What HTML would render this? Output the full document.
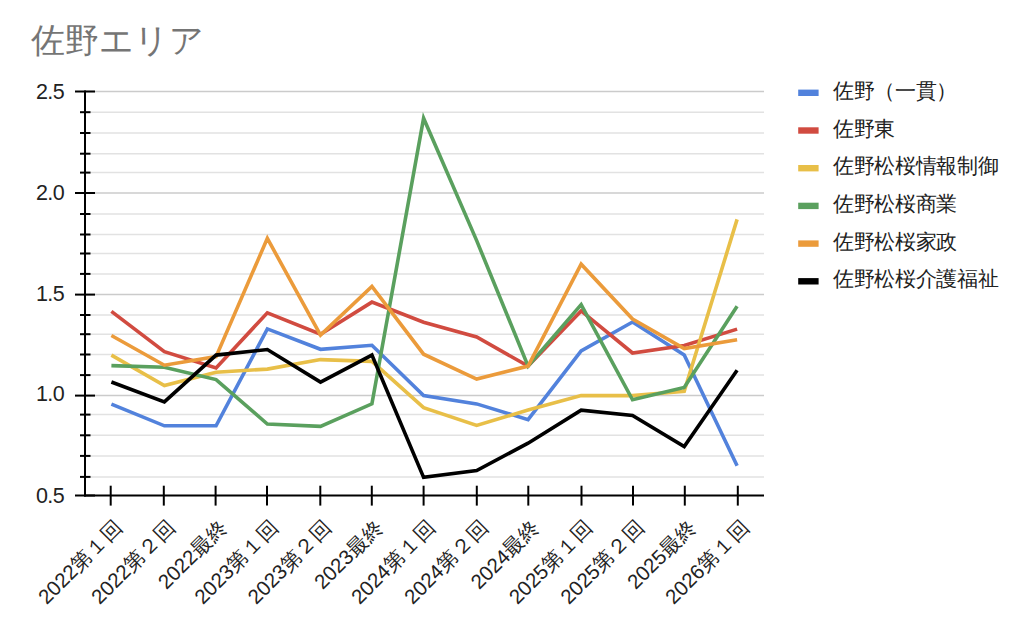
<!DOCTYPE html>
<html><head><meta charset="utf-8"><style>
html,body{margin:0;padding:0;background:#fff;width:1024px;height:629px;overflow:hidden}
svg{position:absolute;left:0;top:0;font-family:"Liberation Sans",sans-serif}
.yl{font-size:21.5px;fill:#222;letter-spacing:-0.5px}
.xl{font-size:20.5px;fill:#222}
.lg{font-size:21px;fill:#222;letter-spacing:-0.35px}
.title{font-size:34px;fill:#757575}
</style></head><body>
<svg width="1024" height="629" viewBox="0 0 1024 629">
<text x="31" y="52" class="title">佐野エリア</text>
<line x1="85" x2="764" y1="476.90" y2="476.90" stroke="#e2e2e2" stroke-width="1.5"/>
<line x1="85" x2="764" y1="455.90" y2="455.90" stroke="#e2e2e2" stroke-width="1.5"/>
<line x1="85" x2="764" y1="435.30" y2="435.30" stroke="#e2e2e2" stroke-width="1.5"/>
<line x1="85" x2="764" y1="414.60" y2="414.60" stroke="#e2e2e2" stroke-width="1.5"/>
<line x1="85" x2="764" y1="395.60" y2="395.60" stroke="#cbcbcb" stroke-width="1.5"/>
<line x1="85" x2="764" y1="375.10" y2="375.10" stroke="#e2e2e2" stroke-width="1.5"/>
<line x1="85" x2="764" y1="354.50" y2="354.50" stroke="#e2e2e2" stroke-width="1.5"/>
<line x1="85" x2="764" y1="334.20" y2="334.20" stroke="#e2e2e2" stroke-width="1.5"/>
<line x1="85" x2="764" y1="315.00" y2="315.00" stroke="#e2e2e2" stroke-width="1.5"/>
<line x1="85" x2="764" y1="294.60" y2="294.60" stroke="#cbcbcb" stroke-width="1.5"/>
<line x1="85" x2="764" y1="273.90" y2="273.90" stroke="#e2e2e2" stroke-width="1.5"/>
<line x1="85" x2="764" y1="253.50" y2="253.50" stroke="#e2e2e2" stroke-width="1.5"/>
<line x1="85" x2="764" y1="234.50" y2="234.50" stroke="#e2e2e2" stroke-width="1.5"/>
<line x1="85" x2="764" y1="214.00" y2="214.00" stroke="#e2e2e2" stroke-width="1.5"/>
<line x1="85" x2="764" y1="193.00" y2="193.00" stroke="#cbcbcb" stroke-width="1.5"/>
<line x1="85" x2="764" y1="172.60" y2="172.60" stroke="#e2e2e2" stroke-width="1.5"/>
<line x1="85" x2="764" y1="153.70" y2="153.70" stroke="#e2e2e2" stroke-width="1.5"/>
<line x1="85" x2="764" y1="133.00" y2="133.00" stroke="#e2e2e2" stroke-width="1.5"/>
<line x1="85" x2="764" y1="112.20" y2="112.20" stroke="#e2e2e2" stroke-width="1.5"/>
<line x1="85" x2="764" y1="91.50" y2="91.50" stroke="#cbcbcb" stroke-width="1.5"/>
<line x1="75" x2="95" y1="495.50" y2="495.50" stroke="#000" stroke-width="2"/>
<line x1="80" x2="90.5" y1="476.90" y2="476.90" stroke="#000" stroke-width="2"/>
<line x1="80" x2="90.5" y1="455.90" y2="455.90" stroke="#000" stroke-width="2"/>
<line x1="80" x2="90.5" y1="435.30" y2="435.30" stroke="#000" stroke-width="2"/>
<line x1="80" x2="90.5" y1="414.60" y2="414.60" stroke="#000" stroke-width="2"/>
<line x1="75" x2="95" y1="395.60" y2="395.60" stroke="#000" stroke-width="2"/>
<line x1="80" x2="90.5" y1="375.10" y2="375.10" stroke="#000" stroke-width="2"/>
<line x1="80" x2="90.5" y1="354.50" y2="354.50" stroke="#000" stroke-width="2"/>
<line x1="80" x2="90.5" y1="334.20" y2="334.20" stroke="#000" stroke-width="2"/>
<line x1="80" x2="90.5" y1="315.00" y2="315.00" stroke="#000" stroke-width="2"/>
<line x1="75" x2="95" y1="294.60" y2="294.60" stroke="#000" stroke-width="2"/>
<line x1="80" x2="90.5" y1="273.90" y2="273.90" stroke="#000" stroke-width="2"/>
<line x1="80" x2="90.5" y1="253.50" y2="253.50" stroke="#000" stroke-width="2"/>
<line x1="80" x2="90.5" y1="234.50" y2="234.50" stroke="#000" stroke-width="2"/>
<line x1="80" x2="90.5" y1="214.00" y2="214.00" stroke="#000" stroke-width="2"/>
<line x1="75" x2="95" y1="193.00" y2="193.00" stroke="#000" stroke-width="2"/>
<line x1="80" x2="90.5" y1="172.60" y2="172.60" stroke="#000" stroke-width="2"/>
<line x1="80" x2="90.5" y1="153.70" y2="153.70" stroke="#000" stroke-width="2"/>
<line x1="80" x2="90.5" y1="133.00" y2="133.00" stroke="#000" stroke-width="2"/>
<line x1="80" x2="90.5" y1="112.20" y2="112.20" stroke="#000" stroke-width="2"/>
<line x1="75" x2="95" y1="91.50" y2="91.50" stroke="#000" stroke-width="2"/>
<line x1="85" x2="85" y1="90.50" y2="496.50" stroke="#000" stroke-width="2"/>
<line x1="84" x2="764" y1="495.50" y2="495.50" stroke="#000" stroke-width="2"/>
<line x1="110.70" x2="110.70" y1="485.7" y2="505.6" stroke="#000" stroke-width="2"/>
<line x1="163.80" x2="163.80" y1="485.7" y2="505.6" stroke="#000" stroke-width="2"/>
<line x1="215.60" x2="215.60" y1="485.7" y2="505.6" stroke="#000" stroke-width="2"/>
<line x1="267.00" x2="267.00" y1="485.7" y2="505.6" stroke="#000" stroke-width="2"/>
<line x1="320.30" x2="320.30" y1="485.7" y2="505.6" stroke="#000" stroke-width="2"/>
<line x1="371.80" x2="371.80" y1="485.7" y2="505.6" stroke="#000" stroke-width="2"/>
<line x1="423.60" x2="423.60" y1="485.7" y2="505.6" stroke="#000" stroke-width="2"/>
<line x1="476.80" x2="476.80" y1="485.7" y2="505.6" stroke="#000" stroke-width="2"/>
<line x1="528.30" x2="528.30" y1="485.7" y2="505.6" stroke="#000" stroke-width="2"/>
<line x1="581.50" x2="581.50" y1="485.7" y2="505.6" stroke="#000" stroke-width="2"/>
<line x1="633.00" x2="633.00" y1="485.7" y2="505.6" stroke="#000" stroke-width="2"/>
<line x1="684.80" x2="684.80" y1="485.7" y2="505.6" stroke="#000" stroke-width="2"/>
<line x1="737.80" x2="737.80" y1="485.7" y2="505.6" stroke="#000" stroke-width="2"/>
<text x="64.3" y="502.70" text-anchor="end" class="yl">0.5</text>
<text x="64.3" y="401.20" text-anchor="end" class="yl">1.0</text>
<text x="64.3" y="300.70" text-anchor="end" class="yl">1.5</text>
<text x="64.3" y="199.90" text-anchor="end" class="yl">2.0</text>
<text x="64.3" y="98.70" text-anchor="end" class="yl">2.5</text>
<polyline points="111.40,404.20 164.38,425.80 216.07,425.80 267.35,328.90 320.53,349.30 371.92,345.30 423.60,395.60 476.68,403.90 528.07,419.60 581.15,351.00 632.53,322.00 684.22,355.00 737.10,465.70" fill="none" stroke="#5282dc" stroke-width="3.6" stroke-linejoin="miter" stroke-miterlimit="10" stroke-linecap="butt"/>
<polyline points="111.40,311.40 164.38,351.60 216.07,368.00 267.35,312.80 320.53,334.20 371.92,302.10 423.60,322.20 476.68,336.90 528.07,366.10 581.15,310.90 632.53,353.00 684.22,345.50 737.10,329.10" fill="none" stroke="#d14b40" stroke-width="3.6" stroke-linejoin="miter" stroke-miterlimit="10" stroke-linecap="butt"/>
<polyline points="111.40,355.10 164.38,385.50 216.07,372.20 267.35,369.10 320.53,359.60 371.92,361.40 423.60,407.60 476.68,425.40 528.07,410.10 581.15,395.60 632.53,395.60 684.22,391.30 737.10,219.40" fill="none" stroke="#e8bf48" stroke-width="3.6" stroke-linejoin="miter" stroke-miterlimit="10" stroke-linecap="butt"/>
<polyline points="111.40,365.60 164.38,367.30 216.07,379.60 267.35,424.00 320.53,426.40 371.92,403.80 423.60,118.20 476.68,240.60 528.07,366.10 581.15,304.60 632.53,399.80 684.22,387.50 737.10,306.20" fill="none" stroke="#5aa05e" stroke-width="3.6" stroke-linejoin="miter" stroke-miterlimit="10" stroke-linecap="butt"/>
<polyline points="111.40,335.50 164.38,365.20 216.07,356.60 267.35,238.40 320.53,335.10 371.92,286.50 423.60,354.20 476.68,379.10 528.07,366.10 581.15,264.20 632.53,319.10 684.22,348.60 737.10,339.80" fill="none" stroke="#eb9b3b" stroke-width="3.6" stroke-linejoin="miter" stroke-miterlimit="10" stroke-linecap="butt"/>
<polyline points="111.40,382.00 164.38,401.90 216.07,355.10 267.35,349.50 320.53,382.10 371.92,355.10 423.60,477.40 476.68,470.60 528.07,443.20 581.15,410.10 632.53,415.50 684.22,446.60 737.10,370.30" fill="none" stroke="#000000" stroke-width="3.6" stroke-linejoin="miter" stroke-miterlimit="10" stroke-linecap="butt"/>
<text transform="translate(123.55,528.4) rotate(-45)" text-anchor="end" class="xl">2022第１回</text>
<text transform="translate(176.65,528.4) rotate(-45)" text-anchor="end" class="xl">2022第２回</text>
<text transform="translate(228.45,528.4) rotate(-45)" text-anchor="end" class="xl">2022最終</text>
<text transform="translate(279.85,528.4) rotate(-45)" text-anchor="end" class="xl">2023第１回</text>
<text transform="translate(333.15,528.4) rotate(-45)" text-anchor="end" class="xl">2023第２回</text>
<text transform="translate(384.65,528.4) rotate(-45)" text-anchor="end" class="xl">2023最終</text>
<text transform="translate(436.45,528.4) rotate(-45)" text-anchor="end" class="xl">2024第１回</text>
<text transform="translate(489.65,528.4) rotate(-45)" text-anchor="end" class="xl">2024第２回</text>
<text transform="translate(541.15,528.4) rotate(-45)" text-anchor="end" class="xl">2024最終</text>
<text transform="translate(594.35,528.4) rotate(-45)" text-anchor="end" class="xl">2025第１回</text>
<text transform="translate(645.85,528.4) rotate(-45)" text-anchor="end" class="xl">2025第２回</text>
<text transform="translate(697.65,528.4) rotate(-45)" text-anchor="end" class="xl">2025最終</text>
<text transform="translate(750.65,528.4) rotate(-45)" text-anchor="end" class="xl">2026第１回</text>
<rect x="798.2" y="89.60" width="20.4" height="6.4" fill="#5282dc"/>
<text x="833" y="97.80" class="lg">佐野（一貫）</text>
<rect x="798.2" y="127.30" width="20.4" height="6.4" fill="#d14b40"/>
<text x="833" y="135.50" class="lg">佐野東</text>
<rect x="798.2" y="165.00" width="20.4" height="6.4" fill="#e8bf48"/>
<text x="833" y="173.20" class="lg">佐野松桜情報制御</text>
<rect x="798.2" y="202.70" width="20.4" height="6.4" fill="#5aa05e"/>
<text x="833" y="210.90" class="lg">佐野松桜商業</text>
<rect x="798.2" y="240.40" width="20.4" height="6.4" fill="#eb9b3b"/>
<text x="833" y="248.60" class="lg">佐野松桜家政</text>
<rect x="798.2" y="278.10" width="20.4" height="6.4" fill="#000000"/>
<text x="833" y="286.30" class="lg">佐野松桜介護福祉</text>
</svg>
</body></html>
